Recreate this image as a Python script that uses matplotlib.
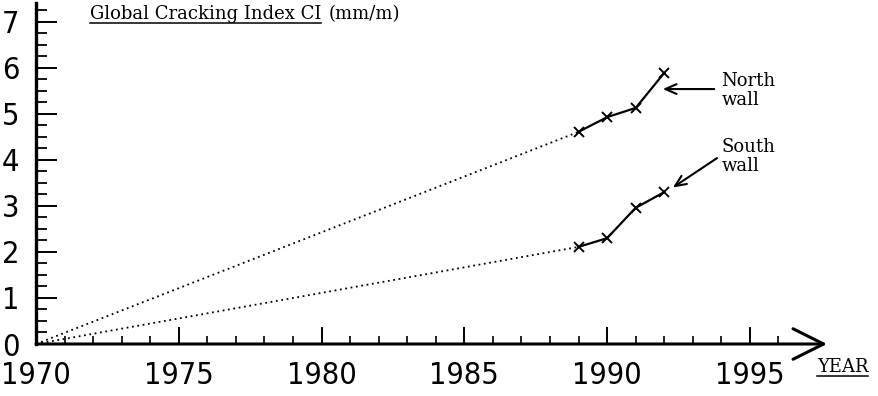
import matplotlib
matplotlib.use("Agg")
import matplotlib.pyplot as plt
from matplotlib.lines import Line2D

# data
origin_year = 1970
origin_ci = 0.0
years = [1989, 1990, 1991, 1992]
north = [4.61, 4.93, 5.13, 5.89]
south = [2.11, 2.30, 2.96, 3.30]
xticks = [1970, 1975, 1980, 1985, 1990, 1995]
yticks = [0, 1, 2, 3, 4, 5, 6, 7]

W, H = 879, 396
fig = plt.figure(figsize=(W / 100, H / 100), dpi=100)
ax = fig.add_axes([36 / W, (H - 344) / H, (827 - 36) / W, (344 - 3) / H])
ax.set_xlim(1970, 1997.7)
ax.set_ylim(0, 7.41)

# dotted extrapolation back to 1970
for vals in (north, south):
    ax.plot([origin_year, years[0]], [origin_ci, vals[0]], ls=(0, (1, 2)),
            color="black", lw=1.3)
    ax.plot(years, vals, color="black", lw=1.6, marker="x", ms=7, mew=1.4)

for s in ("top", "right"):
    ax.spines[s].set_visible(False)
ax.spines["left"].set_linewidth(2.4)
ax.spines["bottom"].set_visible(False)

# x axis with open arrow head
ax.annotate("", xy=(1, 0), xytext=(0, 0), xycoords="axes fraction",
            arrowprops=dict(arrowstyle="->,head_length=2.2,head_width=1.1",
                            lw=2.2, color="black", mutation_scale=10,
                            shrinkA=0, shrinkB=0))

ax.set_xticks(xticks)
ax.set_xticks(range(1971, 1997), minor=True)
ax.set_yticks(yticks)
ax.set_yticks([i / 4 for i in range(1, 30)], minor=True)
ax.tick_params(axis="both", which="major", direction="in", width=1.4,
               labelsize=22)
ax.tick_params(axis="y", which="major", length=15, pad=12)
ax.tick_params(axis="x", which="major", length=12, pad=12)
ax.tick_params(axis="y", which="minor", direction="in", length=8, width=1.3)
ax.tick_params(axis="x", which="minor", direction="in", length=6, width=1.2)
for lab in ax.get_xticklabels() + ax.get_yticklabels():
    lab.set_family("DejaVu Sans")
    lab.set_stretch("condensed")
    lab.set_weight("light")

serif = "DejaVu Serif"
fs = 13


def underlined(x, y, text):
    t = fig.text(x / W, 1 - y / H, text, family=serif, fontsize=fs,
                 va="baseline")
    fig.canvas.draw()
    bb = t.get_window_extent()
    fig.add_artist(Line2D([bb.x0 / W, bb.x1 / W], [1 - (y + 3.5) / H] * 2,
                          color="black", lw=1.1))
    return bb


bb = underlined(90, 19, "Global Cracking Index CI")
fig.text(bb.x1 / W + 0.008, 1 - 19 / H, "(mm/m)", family=serif, fontsize=fs,
         va="baseline")
underlined(817, 372, "YEAR")

ax.text(1994.0, 5.9, "North\nwall", family=serif, fontsize=fs, va="top",
        linespacing=1.05)
ax.text(1994.0, 4.48, "South\nwall", family=serif, fontsize=fs, va="top",
        linespacing=1.05)
ax.annotate("", xy=(1991.95, 5.54), xytext=(1993.75, 5.54),
            arrowprops=dict(arrowstyle="->,head_length=0.8,head_width=0.35",
                            lw=1.5, color="black", mutation_scale=10,
                            shrinkA=0, shrinkB=0))
ax.annotate("", xy=(1992.3, 3.4), xytext=(1993.85, 4.04),
            arrowprops=dict(arrowstyle="->,head_length=0.8,head_width=0.35",
                            lw=1.5, color="black", mutation_scale=10,
                            shrinkA=0, shrinkB=0))

fig.savefig("out.png", dpi=100)
